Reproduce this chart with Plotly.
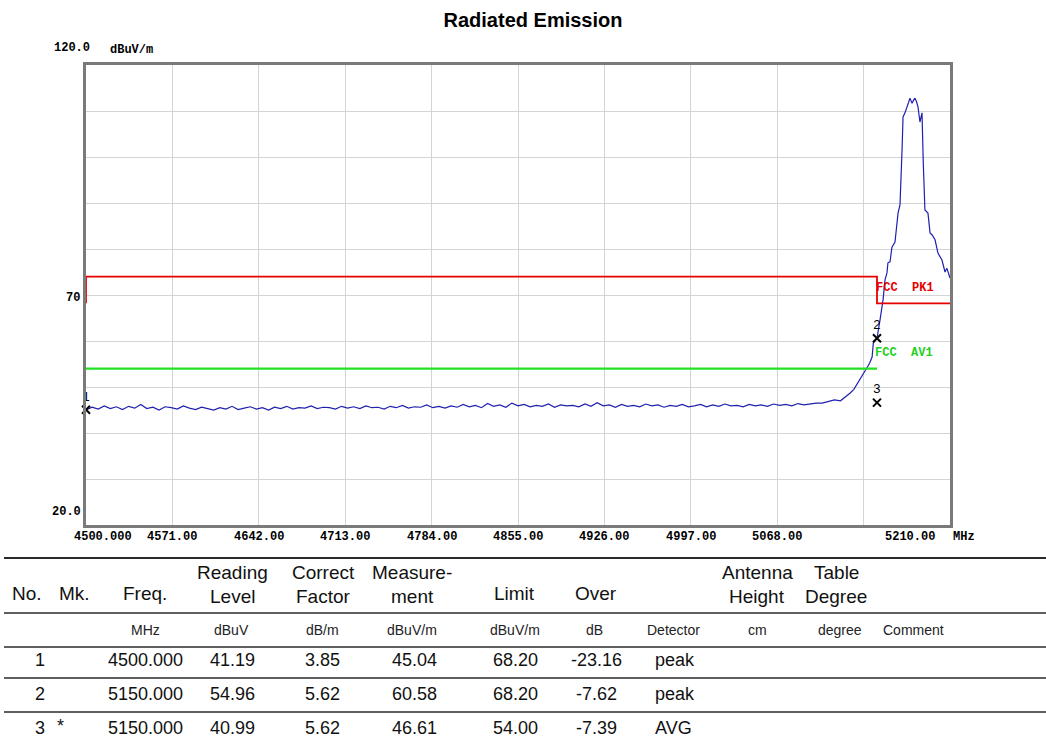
import plotly.graph_objects as go

# ---------------- trace data ----------------
floor_freq = [4500 + 5 * i for i in range(121)]  # 4500 .. 5100 MHz
floor_level = [
    45.0, 45.6, 45.2, 45.9, 45.3, 45.7, 45.1, 45.8, 45.4, 46.2, 45.3, 45.6, 45.0, 45.7, 45.5, 45.2, 45.9, 45.4, 45.1, 45.6,
    45.3, 45.0, 45.5, 45.2, 45.8, 45.1, 45.4, 45.7, 45.2, 45.5, 45.0, 45.6, 45.3, 45.8, 45.2, 45.5, 45.4, 45.9, 45.3, 45.6,
    45.5, 45.2, 45.8, 45.4, 45.7, 45.3, 45.9, 45.5, 45.6, 45.2, 45.8, 45.5, 46.0, 45.4, 45.7, 45.6, 46.1, 45.5, 45.8, 45.4,
    45.9, 45.6, 46.2, 45.7, 46.0, 45.5, 46.4, 45.8, 46.1, 45.6, 46.5, 45.9, 46.2, 45.7, 46.0, 45.8, 46.3, 45.6, 46.1, 45.9,
    46.0, 45.7, 46.3, 45.8, 46.6, 45.9, 46.1, 45.6, 46.2, 45.8, 46.0, 45.7, 46.3, 45.9, 46.1, 45.6, 46.0, 45.8, 46.2, 45.7,
    45.9, 46.2, 45.7, 46.1, 45.8, 46.3, 45.9, 46.0, 45.7, 46.2, 45.9, 46.1, 45.8, 46.3, 46.0, 46.2, 45.9, 46.4, 46.1, 46.3, 46.5,
]
band_freq = [5105, 5110, 5115, 5120, 5124, 5128, 5131, 5134, 5137, 5139, 5142, 5144, 5146, 5147, 5150,
             5152.5, 5155, 5156.6, 5158.2, 5159, 5160.7, 5162.3, 5164.8, 5167.3, 5168.9, 5170.6, 5171.4,
             5173, 5174.7, 5176, 5177.1, 5178.8, 5180, 5181.2, 5182.5, 5183.7, 5185.3, 5187, 5188, 5189.4,
             5191.9, 5193.6, 5195.5, 5197.7, 5200.1, 5202, 5203.4, 5205.9, 5207.5, 5210]
band_level = [46.5, 46.8, 47.2, 47.0, 47.8, 48.7, 49.5, 50.9, 52.2, 53.0, 54.3, 55.2, 56.5, 59.6, 60.6,
              64.6, 69.0, 73.3, 74.8, 77.0, 77.2, 80.4, 81.5, 87.8, 89.6, 101.5, 108.7,
              109.6, 110.7, 111.9, 112.8, 111.7, 112.3, 112.8, 112.0, 110.9, 107.6, 109.6, 99.0, 88.5,
              87.8, 83.5, 83.0, 82.0, 79.1, 78.3, 77.6, 75.0, 75.8, 73.7]

# ---------------- limit lines ----------------
pk_freq = [4500, 4500, 5150, 5150, 5210]
pk_level = [68.2, 74.0, 74.0, 68.2, 68.2]
av_freq = [4500, 5150]
av_level = [54.0, 54.0]

# ---------------- axes ----------------
x_ticks = [4500, 4571, 4642, 4713, 4784, 4855, 4926, 4997, 5068, 5139, 5210]
x_tick_labels = ["4500.000", "4571.00", "4642.00", "4713.00", "4784.00", "4855.00",
                 "4926.00", "4997.00", "5068.00", "", "5210.00"]
y_ticks = [20, 30, 40, 50, 60, 70, 80, 90, 100, 110, 120]

# ---------------- marker table ----------------
mk_no = ["1", "2", "3"]
mk_flag = ["", "", "*"]
mk_freq = [4500.000, 5150.000, 5150.000]
mk_reading = [41.19, 54.96, 40.99]
mk_correct = [3.85, 5.62, 5.62]
mk_measure = [45.04, 60.58, 46.61]
mk_limit = [68.20, 68.20, 54.00]
mk_over = [-23.16, -7.62, -7.39]
mk_detector = ["peak", "peak", "AVG"]

# page geometry (pixels) of the plotting frame
L, R, T, B = 86, 950, 65, 525
W, H = 1046, 739


def xp(px):
    return (px - L) / (R - L)


def yp(py):
    return (B - py) / (B - T)


MONO = dict(family="Liberation Mono", size=12, color="black", weight="bold")
SANS = "Liberation Sans, Arial, sans-serif"

fig = go.Figure()

fig.add_trace(go.Scatter(x=floor_freq + band_freq, y=floor_level + band_level, mode="lines",
                         line=dict(color="#2020b0", width=1.2), showlegend=False, hoverinfo="skip"))
fig.add_trace(go.Scatter(x=pk_freq, y=pk_level, mode="lines",
                         line=dict(color="#e60000", width=1.8), showlegend=False, cliponaxis=False))
fig.add_trace(go.Scatter(x=av_freq, y=av_level, mode="lines",
                         line=dict(color="#22e022", width=2.2), showlegend=False))
fig.add_trace(go.Scatter(x=mk_freq, y=mk_measure, mode="markers+text", text=mk_no,
                         textposition="top center", textfont=dict(family="Liberation Sans", size=13, color="black"),
                         marker=dict(symbol="x-thin-open", size=8, color="black",
                                     line=dict(color="black", width=2)),
                         showlegend=False, cliponaxis=False))

fig.update_xaxes(range=[4500, 5210], tickvals=x_ticks, showticklabels=False, ticks="",
                 showgrid=True, gridcolor="#d4d4d4", gridwidth=1, zeroline=False,
                 showline=True, mirror=True, linecolor="#7a7a7a", linewidth=2.5)
fig.update_yaxes(range=[20, 120], tickvals=y_ticks, showticklabels=False, ticks="",
                 showgrid=True, gridcolor="#d4d4d4", gridwidth=1, zeroline=False,
                 showline=True, mirror=True, linecolor="#7a7a7a", linewidth=2.5)

ann = []
# x-axis labels
for v, t in zip(x_ticks, x_tick_labels):
    if not t:
        continue
    shift = 0
    if v == x_ticks[0]:
        shift = 17
    elif v == x_ticks[-1]:
        shift = -40
    ann.append(dict(x=v, y=yp(537), xref="x", yref="paper", text=t, showarrow=False,
                    xshift=shift, font=MONO, xanchor="center", yanchor="middle"))
ann.append(dict(x=xp(951), y=yp(537), xref="paper", yref="paper", text="MHz", showarrow=False,
                font=MONO, xanchor="left", yanchor="middle"))
# y-axis labels
ann.append(dict(x=xp(92), y=yp(48), xref="paper", yref="paper", text="120.0", showarrow=False,
                font=MONO, xanchor="right", yanchor="middle"))
ann.append(dict(x=xp(108), y=yp(50), xref="paper", yref="paper", text="dBuV/m", showarrow=False,
                font=dict(family="Liberation Mono", size=12, color="black", weight="bold"),
                xanchor="left", yanchor="middle"))
ann.append(dict(x=xp(82), y=70, xref="paper", yref="y", text="70", showarrow=False, yshift=-3,
                font=MONO, xanchor="right", yanchor="middle"))
ann.append(dict(x=xp(83), y=yp(512), xref="paper", yref="paper", text="20.0", showarrow=False,
                font=MONO, xanchor="right", yanchor="middle"))
# limit line names
ann.append(dict(x=5150, y=71.5, xref="x", yref="y", text="FCC  PK1", showarrow=False, xshift=-3,
                font=dict(family="Liberation Mono", size=12, color="#e60000", weight="bold"),
                xanchor="left", yanchor="middle"))
ann.append(dict(x=5150, y=57.4, xref="x", yref="y", text="FCC  AV1", showarrow=False, xshift=-4,
                font=dict(family="Liberation Mono", size=12, color="#22d022", weight="bold"),
                xanchor="left", yanchor="middle"))

# ---------------- table ----------------
HDR = dict(family=SANS, size=19, color="#111")
UNIT = dict(family=SANS, size=14, color="#222")
DATA = dict(family=SANS, size=18, color="#111")


def txt(px, py, s, font, anchor="center"):
    ann.append(dict(x=xp(px), y=yp(py), xref="paper", yref="paper", text=s, showarrow=False,
                    font=font, xanchor=anchor, yanchor="middle"))


# two-line headers
for px, s in [(27, "No."), (74, "Mk."), (145, "Freq."), (514, "Limit"), (596, "Over")]:
    txt(px, 593, s, HDR)
for px, a, b in [(232, "Reading", "Level"), (323, "Correct", "Factor"), (412, "Measure-", "ment"),
                 (757, "Antenna", "Height"), (836, "Table", "Degree")]:
    txt(px, 572, a, HDR)
    txt(px, 596, b, HDR)
# units
for px, s in [(145, "MHz"), (231, "dBuV"), (322, "dB/m"), (412, "dBuV/m"), (515, "dBuV/m"), (594, "dB"),
              (673, "Detector"), (757, "cm"), (840, "degree"), (913, "Comment")]:
    txt(px, 630, s, UNIT)
# rows
row_y = [660, 694, 728]
for i in range(len(mk_no)):
    py = row_y[i]
    txt(40, py, mk_no[i], DATA)
    if mk_flag[i]:
        txt(60, py - 2, mk_flag[i], DATA)
    txt(145, py, f"{mk_freq[i]:.3f}", DATA)
    txt(232, py, f"{mk_reading[i]:.2f}", DATA)
    txt(322, py, f"{mk_correct[i]:.2f}", DATA)
    txt(414, py, f"{mk_measure[i]:.2f}", DATA)
    txt(515, py, f"{mk_limit[i]:.2f}", DATA)
    txt(596, py, f"{mk_over[i]:.2f}", DATA)
    txt(653, py, mk_detector[i], DATA, anchor="left")

shapes = []
for py, w in [(558, 2.2), (613, 1.6), (647, 1.6), (678, 1.6), (712, 1.6)]:
    shapes.append(dict(type="line", xref="paper", yref="paper", x0=xp(4), x1=xp(1046),
                       y0=yp(py), y1=yp(py), line=dict(color="#2a2a2a", width=w)))

fig.update_layout(
    width=W, height=H,
    margin=dict(l=L, r=W - R, t=T, b=H - B, pad=0),
    paper_bgcolor="white", plot_bgcolor="white",
    title=dict(text="<b>Radiated Emission</b>", x=xp(533), xref="paper", y=1 - 20 / H, yanchor="middle",
               xanchor="center", font=dict(family=SANS, size=20, color="black")),
    annotations=ann, shapes=shapes,
)

fig.write_html("out.html")
